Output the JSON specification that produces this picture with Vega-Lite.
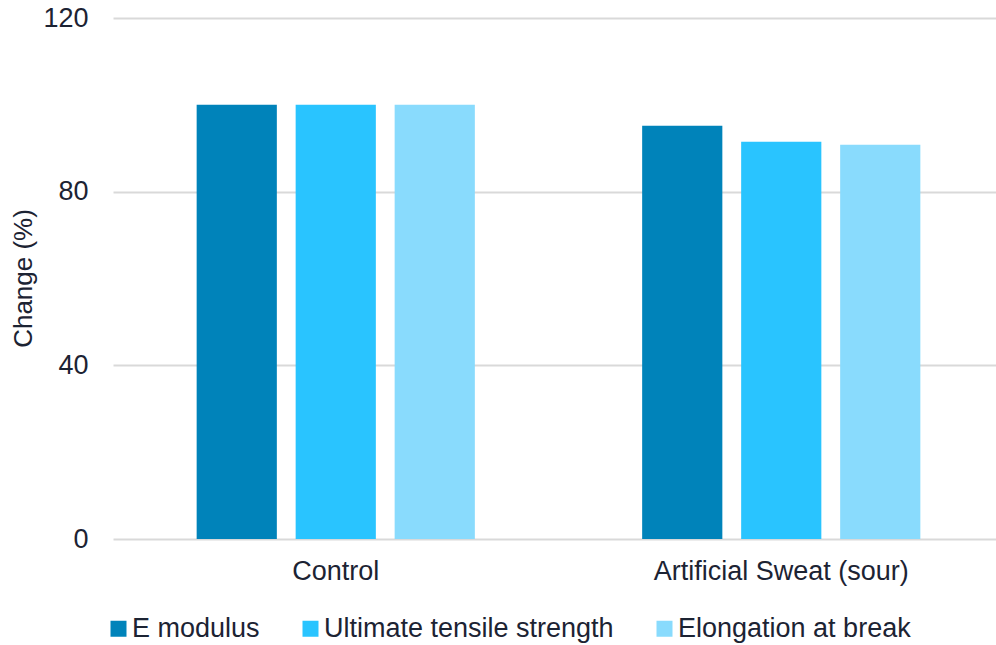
{
  "$schema": "https://vega.github.io/schema/vega-lite/v6.json",
  "autosize": {"type": "none"},
  "padding": {"left": 113, "top": 18, "right": 0, "bottom": 106},
  "width": 883,
  "height": 521,
  "background": "white",
  "config": {
    "view": {"stroke": null},
    "font": "Liberation Sans",
    "text": {"font": "Liberation Sans"}
  },
  "data": {
    "values": [
      {"group": "Control", "metric": "E modulus", "value": 100},
      {"group": "Control", "metric": "Ultimate tensile strength", "value": 100},
      {"group": "Control", "metric": "Elongation at break", "value": 100},
      {"group": "Artificial Sweat (sour)", "metric": "E modulus", "value": 95.2},
      {"group": "Artificial Sweat (sour)", "metric": "Ultimate tensile strength", "value": 91.5},
      {"group": "Artificial Sweat (sour)", "metric": "Elongation at break", "value": 90.8}
    ]
  },
  "mark": {"type": "bar"},
  "encoding": {
    "x": {
      "field": "group",
      "type": "nominal",
      "sort": ["Control", "Artificial Sweat (sour)"],
      "scale": {"paddingInner": 0, "paddingOuter": 0, "range": [0, 891]},
      "axis": {
        "title": null,
        "labelAngle": 0,
        "ticks": false,
        "domain": false,
        "labelFont": "Liberation Sans",
        "labelFontSize": 27,
        "labelColor": "#1c2333",
        "labelPadding": 19,
        "labelLimit": 500
      }
    },
    "xOffset": {
      "field": "metric",
      "type": "nominal",
      "sort": ["E modulus", "Ultimate tensile strength", "Elongation at break"],
      "scale": {"paddingInner": 0.19, "paddingOuter": 0.845}
    },
    "y": {
      "field": "value",
      "type": "quantitative",
      "scale": {"domain": [0, 120], "nice": false},
      "axis": {
        "values": [0, 40, 80, 120],
        "title": "Change (%)",
        "titleFont": "Liberation Sans",
        "titleFontSize": 26,
        "titleFontWeight": "normal",
        "titleColor": "#1c2333",
        "titleAngle": -90,
        "titleX": -90,
        "titleY": 260,
        "titleAlign": "center",
        "titleBaseline": "middle",
        "ticks": false,
        "domain": false,
        "labelFont": "Liberation Sans",
        "labelFontSize": 27,
        "labelColor": "#1c2333",
        "labelPadding": 25,
        "gridColor": "#d9d9d9",
        "gridWidth": 2
      }
    },
    "color": {
      "field": "metric",
      "type": "nominal",
      "sort": ["E modulus", "Ultimate tensile strength", "Elongation at break"],
      "scale": {
        "domain": ["E modulus", "Ultimate tensile strength", "Elongation at break"],
        "range": ["#0083ba", "#29c4ff", "#89dbfd"]
      },
      "legend": {
        "title": null,
        "orient": "none",
        "direction": "horizontal",
        "legendX": -8,
        "legendY": 597,
        "padding": 0,
        "symbolType": "square",
        "symbolSize": 256,
        "symbolStrokeWidth": 0,
        "labelFont": "Liberation Sans",
        "labelFontSize": 27,
        "labelColor": "#1c2333",
        "labelOffset": 0,
        "columnPadding": 37,
        "labelLimit": 400
      }
    }
  }
}
